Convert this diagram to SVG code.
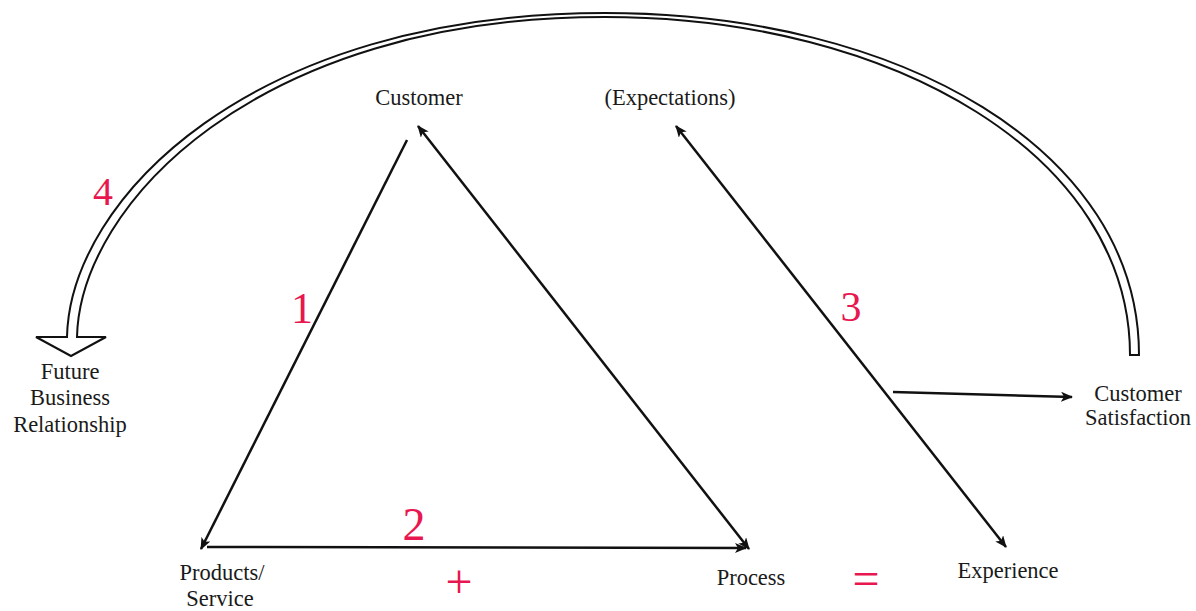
<svg xmlns="http://www.w3.org/2000/svg" width="1196" height="611" viewBox="0 0 1196 611">
<defs>
<marker id="ah" viewBox="0 0 12 10" refX="11" refY="5" markerWidth="12" markerHeight="10" markerUnits="userSpaceOnUse" orient="auto-start-reverse">
<path d="M0,0 L12,5 L0,10 L3,5 Z" fill="#111"/>
</marker>
</defs>
<style>
.lbl{font-family:"Liberation Serif","Times New Roman",serif;font-size:22.5px;fill:#1a1a1a;text-anchor:middle}
.num{font-family:"Liberation Serif","Times New Roman",serif;fill:#e8174f;text-anchor:middle}
.ln{stroke:#111;stroke-width:2.5;fill:none}
</style>
<rect width="1196" height="611" fill="#ffffff"/>
<g id="connectors">
<path id="loop4" d="M67,337 C70,200 250,13 605,13 C900,13 1139,150 1139,355 L1130,355 C1130,157 895,17 605,17 C255,17 80,205 77,337 L106,337 L71,356 L36,337 Z" fill="#fff" stroke="#111" stroke-width="2" stroke-linejoin="miter"/>
<line class="ln" x1="407" y1="140" x2="201" y2="549" marker-end="url(#ah)"/>
<line class="ln" x1="749" y1="549" x2="418" y2="126" marker-start="url(#ah)" marker-end="url(#ah)"/>
<line class="ln" x1="207" y1="547" x2="746" y2="548" stroke-width="3" marker-end="url(#ah)"/>
<line class="ln" x1="1006" y1="547" x2="676" y2="126" marker-start="url(#ah)" marker-end="url(#ah)"/>
<line class="ln" x1="893" y1="392" x2="1072" y2="397" stroke-width="2.8" marker-end="url(#ah)"/>
</g>
<g id="customer"><text class="lbl" x="419" y="105">Customer</text></g>
<g id="expectations"><text class="lbl" x="670" y="105">(Expectations)</text></g>
<g id="future"><text class="lbl" x="70" y="379">Future</text><text class="lbl" x="70" y="405">Business</text><text class="lbl" x="70" y="432">Relationship</text></g>
<g id="satisfaction"><text class="lbl" x="1138" y="401">Customer</text><text class="lbl" x="1138" y="425">Satisfaction</text></g>
<g id="products"><text class="lbl" x="222" y="580">Products/</text><text class="lbl" x="220" y="606">Service</text></g>
<g id="process"><text class="lbl" x="751" y="585">Process</text></g>
<g id="experience"><text class="lbl" x="1008" y="578">Experience</text></g>
<g id="numbers">
<text class="num" x="103" y="205" font-size="40">4</text>
<text class="num" x="302" y="323" font-size="44">1</text>
<text class="num" x="851" y="321" font-size="42">3</text>
<text class="num" x="414" y="540" font-size="46">2</text>
<text class="num" x="459" y="598" font-size="48">+</text>
<text class="num" x="866" y="595" font-size="48">=</text>
</g>
</svg>
